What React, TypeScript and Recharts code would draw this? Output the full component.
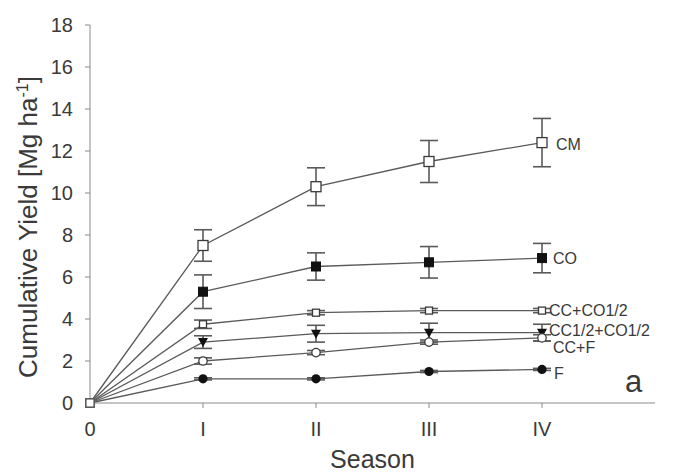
import { LineChart, Line, XAxis, YAxis, ErrorBar } from 'recharts'

const seasons = [0, 1, 2, 3, 4]
const seasonLabels = ['0', 'I', 'II', 'III', 'IV']
const yTicks = [0, 2, 4, 6, 8, 10, 12, 14, 16, 18]

const names = ['CM', 'CO', 'CC+CO1/2', 'CC1/2+CO1/2', 'CC+F', 'F']
const cm = [0, 7.5, 10.3, 11.5, 12.4]
const cmErr = [0, 0.75, 0.9, 1.0, 1.15]
const co = [0, 5.3, 6.5, 6.7, 6.9]
const coErr = [0, 0.8, 0.65, 0.75, 0.7]
const ccCo = [0, 3.75, 4.3, 4.4, 4.4]
const ccCoErr = [0, 0.2, 0.1, 0.1, 0.1]
const cc12 = [0, 2.9, 3.3, 3.35, 3.35]
const cc12Err = [0, 0.3, 0.4, 0.45, 0.4]
const ccF = [0, 2.0, 2.4, 2.9, 3.1]
const ccFErr = [0, 0.15, 0.1, 0.1, 0.15]
const f = [0, 1.15, 1.15, 1.5, 1.6]
const fErr = [0, 0.05, 0.05, 0.05, 0.05]

const values = [cm, co, ccCo, cc12, ccF, f]
const errors = [cmErr, coErr, ccCoErr, cc12Err, ccFErr, fErr]

// marker shape and end-label offset per series
const styles = [
  { shape: 'sqOpen', dx: 14, dy: 2 },
  { shape: 'sqFill', dx: 11, dy: 0 },
  { shape: 'sqSmall', dx: 7, dy: 0 },
  { shape: 'triFill', dx: 7, dy: -2 },
  { shape: 'circOpen', dx: 11, dy: 9 },
  { shape: 'circFill', dx: 12, dy: 4 },
]

const INK = '#3a3a3a'
const LINE = '#5a5a5a'
const FONT = '"Liberation Sans", Arial, sans-serif'

const makeDot = (shape: string) => (p: any) => {
  const { cx, cy, index } = p
  const k = `d${index}`
  if (cx == null || cy == null) return <g key={k} />
  if (index === 0) {
    return <rect key={k} x={cx - 4} y={cy - 4} width={8} height={8} fill="#fff" stroke={LINE} strokeWidth={1.2} />
  }
  switch (shape) {
    case 'sqOpen':
      return <rect key={k} x={cx - 5} y={cy - 5} width={10} height={10} fill="#fff" stroke={INK} strokeWidth={1.3} />
    case 'sqFill':
      return <rect key={k} x={cx - 4.5} y={cy - 4.5} width={9} height={9} fill="#111" stroke="#111" />
    case 'sqSmall':
      return <rect key={k} x={cx - 3.5} y={cy - 3.5} width={7} height={7} fill="#fff" stroke={INK} strokeWidth={1.3} />
    case 'triFill':
      return <path key={k} d={`M${cx - 5},${cy - 4}L${cx + 5},${cy - 4}L${cx},${cy + 5}Z`} fill="#111" />
    case 'circOpen':
      return <circle key={k} cx={cx} cy={cy} r={4.2} fill="#fff" stroke={INK} strokeWidth={1.3} />
    default:
      return <circle key={k} cx={cx} cy={cy} r={4.6} fill="#111" />
  }
}

const makeLabel = (name: string, dx: number, dy: number) => (p: any) => {
  const { x, y, index } = p
  if (index !== seasons.length - 1) return <g key={`l${index}`} />
  return (
    <text key={`l${index}`} x={x + dx} y={y + dy} dy="0.35em" fontSize={16} fill={INK} fontFamily={FONT}>
      {name}
    </text>
  )
}

const YTitle = (p: any) => {
  const vb = p.viewBox
  const cx = vb.x + 28
  const cy = vb.y + vb.height / 2 + 13
  return (
    <text x={cx} y={cy} transform={`rotate(-90, ${cx}, ${cy})`} textAnchor="middle" dy="0.35em"
      fontSize={26} fill={INK} fontFamily={FONT}>
      Cumulative Yield [Mg ha<tspan fontSize={16} dy={-9}>-1</tspan><tspan dy={9}>]</tspan>
    </text>
  )
}

export default function App() {
  const series = names.map((name, i) => ({
    name,
    data: seasons.map((s, j) => ({ x: s, y: values[i][j], err: errors[i][j] })),
  }))

  return (
    <div style={{ position: 'absolute', left: 0, top: 0, width: 673, height: 473, background: '#fff' }}>
      <LineChart width={673} height={473} margin={{ top: 25, right: 18, left: 0, bottom: 0 }}>
        <XAxis type="number" dataKey="x" domain={[0, 5]} ticks={seasons} tickFormatter={(v: number) => seasonLabels[v]}
          height={70} tickSize={5} tickMargin={14} stroke="#8a8a8a"
          tick={{ fontSize: 20, fill: INK, fontFamily: FONT }}
          label={{ value: 'Season', position: 'insideBottom', offset: 0, dy: -5, fontSize: 25, fill: INK, fontFamily: FONT }} />
        <YAxis type="number" domain={[0, 18]} ticks={yTicks} width={90} tickSize={5} tickMargin={12} stroke="#8a8a8a"
          interval={0} tick={{ fontSize: 20, fill: INK, fontFamily: FONT }} label={{ content: YTitle }} />
        {series.map((s, i) => (
          <Line key={s.name} data={s.data} dataKey="y" type="linear" stroke={LINE} strokeWidth={1.3}
            isAnimationActive={false} dot={makeDot(styles[i].shape)} activeDot={false}
            label={makeLabel(s.name, styles[i].dx, styles[i].dy)}>
            <ErrorBar dataKey="err" direction="y" width={9} stroke={LINE} strokeWidth={1.6} isAnimationActive={false} />
          </Line>
        ))}
      </LineChart>
      <div style={{ position: 'absolute', left: 625, top: 364, fontSize: 31, color: INK, fontFamily: FONT }}>a</div>
    </div>
  )
}
